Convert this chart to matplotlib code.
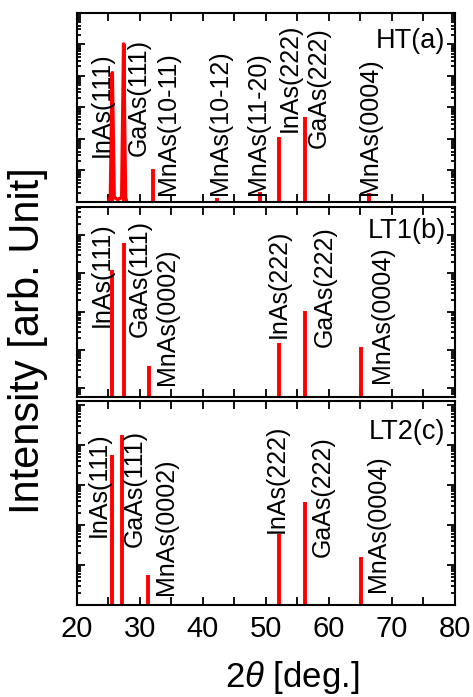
import numpy as np
import matplotlib.pyplot as plt
from matplotlib.ticker import MultipleLocator, LogLocator, NullFormatter
import matplotlib.transforms as mtransforms

plt.rcParams['font.family'] = ['Liberation Sans', 'DejaVu Sans']
plt.rcParams['mathtext.fontset'] = 'custom'
plt.rcParams['mathtext.it'] = 'Liberation Sans:italic'
plt.rcParams['mathtext.rm'] = 'Liberation Sans'

# HT(a)
ht_pos = [25.6, 27.4, 32.0, 42.2, 49.0, 52.1, 56.25, 66.4]
ht_int = [1.27e4, 1.04e5, 11, 1.3, 2.1, 116, 500, 1.9]
ht_labels = ['InAs(111)', 'GaAs(111)', 'MnAs(10-11)', 'MnAs(10-12)',
             'MnAs(11-20)', 'InAs(222)', 'GaAs(222)', 'MnAs(0004)']
ht_lab_x = [23.9, 29.8, 34.5, 42.7, 48.7, 53.8, 58.4, 66.5]
ht_lab_y = [0.238, 0.243, 0.037, 0.037, 0.037, 0.37, 0.286, 0.037]
# broad base under the (111) peaks in HT
ht_base_x = [25.0, 25.3, 25.6, 25.9, 26.5, 27.1, 27.4, 27.7, 27.9]
ht_base_y = [1.0, 1.4, 1.27e4, 1.4, 1.2, 1.4, 1.04e5, 1.4, 1.0]

# LT1(b)
lt1_pos = [25.5, 27.4, 31.4, 52.1, 56.25, 65.1]
lt1_int = [1230, 6100, 3.9, 15, 106, 12]
lt1_labels = ['InAs(111)', 'GaAs(111)', 'MnAs(0002)', 'InAs(222)', 'GaAs(222)', 'MnAs(0004)']
lt1_lab_x = [23.9, 30.0, 34.3, 51.95, 59.4, 68.4]
lt1_lab_y = [0.368, 0.317, 0.063, 0.31, 0.265, 0.072]

# LT2(c)
lt2_pos = [25.5, 27.2, 31.3, 52.1, 56.25, 65.1]
lt2_int = [5600, 1.8e4, 5.6, 58, 380, 16]
lt2_labels = ['InAs(111)', 'GaAs(111)', 'MnAs(0002)', 'InAs(222)', 'GaAs(222)', 'MnAs(0004)']
lt2_lab_x = [23.5, 29.2, 34.1, 51.7, 59.0, 67.8]
lt2_lab_y = [0.335, 0.286, 0.049, 0.351, 0.237, 0.065]

panels = [
    ('HT(a)', ht_pos, ht_int, ht_labels, ht_lab_x, ht_lab_y, (1, 1e6), 0.92),
    ('LT1(b)', lt1_pos, lt1_int, lt1_labels, lt1_lab_x, lt1_lab_y, (0.59, 5.4e4), 0.94),
    ('LT2(c)', lt2_pos, lt2_int, lt2_labels, lt2_lab_x, lt2_lab_y, (1, 1.26e5), 0.91),
]
boxes = [[0.1628, 0.7102, 0.799, 0.2712],
         [0.1628, 0.4304, 0.799, 0.2726],
         [0.1628, 0.1320, 0.799, 0.2927]]

fig = plt.figure(figsize=(4.73, 6.97), dpi=100)

for i, (name, pos, inten, labels, lx, ly, ylim, ty) in enumerate(panels):
    ax = fig.add_axes(boxes[i])
    ax.set_yscale('log')
    ax.set_xlim(20, 80)
    ax.set_ylim(*ylim)
    ax.vlines(pos, ylim[0], inten, color='#ff0000', lw=2.8)
    if i == 0:
        ax.plot(ht_base_x, ht_base_y, color='#ff0000', lw=2.5)
    trans = mtransforms.blended_transform_factory(ax.transData, ax.transAxes)
    for t, x, y in zip(labels, lx, ly):
        ax.text(x, y, t, rotation=90, ha='center', va='bottom',
                fontsize=18, transform=trans)
    ax.text(0.975, ty, name, ha='right', va='top', fontsize=19.5,
            transform=ax.transAxes,
            bbox=dict(facecolor='white', edgecolor='none', pad=1))

    ax.xaxis.set_major_locator(MultipleLocator(10))
    ax.xaxis.set_minor_locator(MultipleLocator(5))
    ax.yaxis.set_major_locator(LogLocator(base=10, numticks=20))
    ax.yaxis.set_minor_locator(LogLocator(base=10, subs=np.arange(2, 10), numticks=20))
    ax.yaxis.set_major_formatter(NullFormatter())
    ax.yaxis.set_minor_formatter(NullFormatter())
    ax.tick_params(which='both', direction='in', top=True, right=True, width=1.3)
    ax.tick_params(which='major', axis='x', length=5.5)
    ax.tick_params(which='minor', axis='x', length=5.5)
    ax.tick_params(which='major', axis='y', length=6)
    ax.tick_params(which='minor', axis='y', length=3)
    for s in ax.spines.values():
        s.set_linewidth(1.5)
    if i < 2:
        ax.set_xticklabels([])
    else:
        ax.tick_params(axis='x', labelsize=21, pad=7)

fig.text(28 / 473, 1 - 341 / 697, 'Intensity [arb. Unit]', rotation=90,
         ha='center', va='center', fontsize=30)
fig.text(292 / 473, 1 - 678 / 697, r'$\mathit{2\theta}$ [deg.]',
         ha='center', va='center', fontsize=25)

plt.savefig('out.png', dpi=100)
